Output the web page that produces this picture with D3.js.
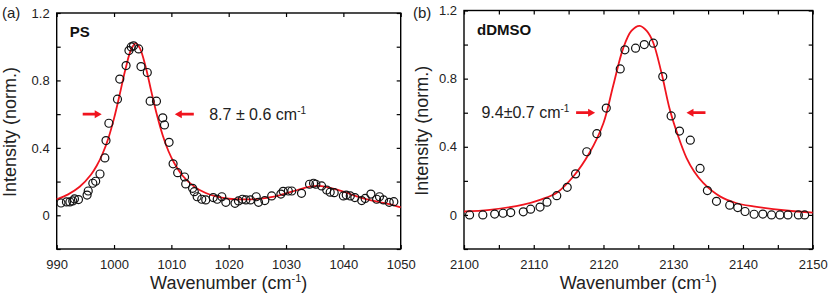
<!DOCTYPE html>
<html>
<head>
<meta charset="utf-8">
<script src="https://cdn.jsdelivr.net/npm/d3@7"></script>
<style>
  body { margin: 0; background: #fff; }
  svg { display: block; font-family: "Liberation Sans", Arial, Helvetica, sans-serif; }
</style>
</head>
<body>
<svg id="chart" width="830" height="296"></svg>
<script>
// (a) PS band, measured points
const psWave = [990.75, 991.7, 992.3, 992.8, 993.1, 993.8, 995.3, 995.5, 996.3, 996.8, 997.55, 998.4, 998.6, 999.1,
  1000.6, 1001.0, 1002.1, 1002.6, 1003.0, 1003.4, 1004.3, 1004.7, 1005.8, 1006.3, 1007.4, 1008.5, 1008.8, 1009.6,
  1010.3, 1011.1, 1012.3, 1012.5, 1013.7, 1014.0, 1014.5, 1015.3, 1016.0, 1017.3, 1018.0, 1018.8, 1019.5, 1021.1,
  1021.7, 1022.4, 1023.0, 1023.8, 1024.8, 1025.2, 1026.3, 1027.5, 1029.1, 1029.5, 1030.4, 1031.0, 1032.7, 1034.1,
  1034.8, 1035.2, 1036.2, 1037.1, 1037.7, 1038.4, 1040.0, 1040.5, 1041.2, 1042.0, 1043.2, 1043.8, 1044.8, 1045.8,
  1046.3, 1047.0, 1048.0, 1048.8];
const psInt = [0.073, 0.079, 0.079, 0.085, 0.097, 0.093, 0.120, 0.144, 0.190, 0.202, 0.245, 0.340, 0.443, 0.546,
  0.689, 0.808, 0.888, 0.977, 0.999, 1.005, 0.987, 0.882, 0.847, 0.677, 0.677, 0.578, 0.536, 0.433,
  0.305, 0.253, 0.227, 0.186, 0.160, 0.140, 0.110, 0.095, 0.091, 0.105, 0.095, 0.110, 0.077, 0.071,
  0.085, 0.095, 0.091, 0.091, 0.110, 0.077, 0.087, 0.115, 0.126, 0.142, 0.144, 0.144, 0.130, 0.184,
  0.190, 0.184, 0.174, 0.150, 0.137, 0.134, 0.115, 0.120, 0.115, 0.105, 0.087, 0.100, 0.126, 0.095,
  0.110, 0.091, 0.077, 0.081];

// (a) fitted curve
const psFitWave = [990, 992, 994, 996, 997, 998, 999, 1000, 1001, 1002, 1003, 1003.8, 1004.5, 1005.5, 1006.5, 1007.5,
  1008.5, 1009.5, 1010.5, 1012, 1014, 1016, 1018, 1020, 1023, 1026, 1029, 1032, 1034, 1035.5, 1037, 1040,
  1043, 1046, 1048, 1050];
const psFitInt = [0.094, 0.124, 0.169, 0.242, 0.295, 0.365, 0.456, 0.575, 0.718, 0.868, 0.985, 1.02, 0.992, 0.883, 0.735, 0.593,
  0.473, 0.38, 0.31, 0.233, 0.17, 0.132, 0.11, 0.098, 0.094, 0.1, 0.12, 0.15, 0.168, 0.174, 0.168, 0.14,
  0.105, 0.08, 0.066, 0.047];

// (b) dDMSO band, measured points
const dmsoWave = [2100.8, 2102.7, 2104.4, 2105.6, 2106.7, 2108.5, 2109.55, 2110.9, 2111.9, 2113.3, 2114.8, 2116.0,
  2117.6, 2119.05, 2120.4, 2122.4, 2123.07, 2124.6, 2125.85, 2127.15, 2128.5, 2129.7, 2130.9, 2132.45, 2133.85,
  2134.9, 2136.2, 2138.1, 2139.25, 2140.3, 2141.6, 2142.85, 2144.1, 2145.3, 2146.45, 2147.95, 2148.85];
const dmsoInt = [0.0, 0.0, 0.005, 0.01, 0.014, 0.018, 0.034, 0.046, 0.075, 0.113, 0.162, 0.241,
  0.371, 0.477, 0.627, 0.857, 0.969, 0.979, 1.0, 1.008, 0.812, 0.581, 0.492, 0.439, 0.273,
  0.143, 0.08, 0.057, 0.043, 0.02, 0.004, 0.005, 0.0, 0.0, 0.0, 0.0, 0.0];

// (b) fitted curve
const dmsoFitWave = [2100, 2103.7, 2108.5, 2111, 2113.3, 2115.7, 2118, 2120, 2121.4, 2122.8, 2124, 2125.2, 2126.2,
  2127.1, 2128.3, 2129.5, 2130.7, 2131.9, 2133, 2134.3, 2136.7, 2139, 2141.5, 2146.2, 2150];
const dmsoFitInt = [0.02, 0.03, 0.06, 0.09, 0.13, 0.227, 0.365, 0.54, 0.76, 0.975, 1.08, 1.11, 1.08,
  1.015, 0.837, 0.62, 0.463, 0.335, 0.255, 0.188, 0.109, 0.07, 0.05, 0.026, 0.014];

// axes
const yTicks = [-0.2, 0, 0.2, 0.4, 0.6, 0.8, 1.0, 1.2];
const yTickLabels = [0, 0.4, 0.8, 1.2];
const psXTicks = [990, 1000, 1010, 1020, 1030, 1040, 1050];
const psXTickLabels = [990, 1000, 1010, 1020, 1030, 1040, 1050];
const dmsoXTicks = [2100, 2105, 2110, 2115, 2120, 2125, 2130, 2135, 2140, 2145, 2150];
const dmsoXTickLabels = [2100, 2110, 2120, 2130, 2140, 2150];

const RED = '#f0141e';
const svg = d3.select('#chart');

function drawPanel(p) {
  const x = d3.scaleLinear().domain(p.xDomain).range([p.left, p.right]);
  const y = d3.scaleLinear().domain([-0.2, 1.2]).range([p.bottom, p.top]);
  const g = svg.append('g');
  const tick = 4;

  // inward ticks on all four sides
  const fmtX = d => p.xLabels.includes(d) ? String(d) : '';
  const fmtY = d => yTickLabels.some(v => Math.abs(v - d) < 1e-9) ? d3.format('')(+d.toFixed(1)) : '';

  const axB = g.append('g').attr('transform', `translate(0,${p.bottom})`)
    .call(d3.axisBottom(x).tickValues(p.xTicks).tickSize(-tick).tickPadding(8).tickFormat(fmtX));
  const axT = g.append('g').attr('transform', `translate(0,${p.top})`)
    .call(d3.axisTop(x).tickValues(p.xTicks).tickSize(-tick).tickFormat(''));
  const axL = g.append('g').attr('transform', `translate(${p.left},0)`)
    .call(d3.axisLeft(y).tickValues(yTicks).tickSize(-tick).tickPadding(7).tickFormat(fmtY));
  const axR = g.append('g').attr('transform', `translate(${p.right},0)`)
    .call(d3.axisRight(y).tickValues(yTicks).tickSize(-tick).tickFormat(''));
  [axB, axT, axL, axR].forEach(a => {
    a.select('.domain').remove();
    a.selectAll('line').attr('stroke', '#000').attr('stroke-width', 1.2);
    a.selectAll('text').attr('font-size', 13).attr('fill', '#222').attr('font-family', null);
  });
  axB.selectAll('text').attr('dy', '0.9em');

  g.append('rect')
    .attr('x', p.left).attr('y', p.top)
    .attr('width', p.right - p.left).attr('height', p.bottom - p.top)
    .attr('fill', 'none').attr('stroke', '#000').attr('stroke-width', 1.4);

  // fit curve
  const line = d3.line().x(d => x(d[0])).y(d => y(d[1])).curve(d3.curveCatmullRom.alpha(0.5));
  g.append('path')
    .datum(d3.zip(p.fitX, p.fitY))
    .attr('d', line)
    .attr('fill', 'none').attr('stroke', RED).attr('stroke-width', 1.8);

  // measured points
  g.append('g').selectAll('circle')
    .data(d3.zip(p.dataX, p.dataY))
    .enter().append('circle')
    .attr('cx', d => x(d[0])).attr('cy', d => y(d[1]))
    .attr('r', 4)
    .attr('fill', 'none').attr('stroke', '#111').attr('stroke-width', 1.2);

  // width arrows
  p.arrows.forEach(a => {
    const tx = x(a.tip), ty = y(a.level), s = a.dir;
    const pts = [[0, 0], [-7 * s, -4], [-7 * s, -1.4], [-19 * s, -1.4], [-19 * s, 1.4], [-7 * s, 1.4], [-7 * s, 4]];
    g.append('path')
      .attr('d', 'M' + pts.map(q => `${tx + q[0]},${ty + q[1]}`).join('L') + 'Z')
      .attr('fill', RED);
  });

  // width text
  const t = g.append('text')
    .attr('x', x(p.note.at)).attr('y', y(p.note.level) + 5.5)
    .attr('font-size', 16).attr('fill', '#222');
  t.append('tspan').text(p.note.text + ' cm');
  t.append('tspan').attr('dy', -6).attr('font-size', 10).text('-1');

  // sample name
  g.append('text')
    .attr('x', p.left + 13).attr('y', p.top + 24)
    .attr('font-size', 15).attr('font-weight', 'bold').attr('fill', '#111')
    .text(p.name);

  // panel letter
  g.append('text')
    .attr('x', p.letterX).attr('y', 18)
    .attr('font-size', 15).attr('fill', '#222')
    .text(p.letter);

  // axis titles
  g.append('text')
    .attr('transform', `translate(${p.yTitleX},${(p.top + p.bottom) / 2 + 1}) rotate(-90)`)
    .attr('text-anchor', 'middle').attr('font-size', 18).attr('fill', '#222')
    .text('Intensity (norm.)');

  const xl = g.append('text')
    .attr('x', (p.left + p.right) / 2).attr('y', 289)
    .attr('text-anchor', 'middle').attr('font-size', 18).attr('fill', '#222');
  xl.append('tspan').text('Wavenumber (cm');
  xl.append('tspan').attr('dy', -7).attr('font-size', 11).text('-1');
  xl.append('tspan').attr('dy', 7).text(')');
}

drawPanel({
  left: 56.7, right: 400.7, top: 13, bottom: 249,
  xDomain: [990, 1050], xTicks: psXTicks, xLabels: psXTickLabels,
  dataX: psWave, dataY: psInt, fitX: psFitWave, fitY: psFitInt,
  arrows: [{ tip: 997.85, level: 0.6, dir: 1 }, { tip: 1010.6, level: 0.6, dir: -1 }],
  note: { at: 1016.6, level: 0.6, text: '8.7 ± 0.6' },
  name: 'PS', letter: '(a)', letterX: 2, yTitleX: 16
});

drawPanel({
  left: 464, right: 812.7, top: 10.5, bottom: 249,
  xDomain: [2100, 2150], xTicks: dmsoXTicks, xLabels: dmsoXTickLabels,
  dataX: dmsoWave, dataY: dmsoInt, fitX: dmsoFitWave, fitY: dmsoFitInt,
  arrows: [{ tip: 2118.8, level: 0.6, dir: 1 }, { tip: 2131.9, level: 0.6, dir: -1 }],
  note: { at: 2102.5, level: 0.6, text: '9.4±0.7' },
  name: 'dDMSO', letter: '(b)', letterX: 413, yTitleX: 427.5
});
</script>
</body>
</html>
